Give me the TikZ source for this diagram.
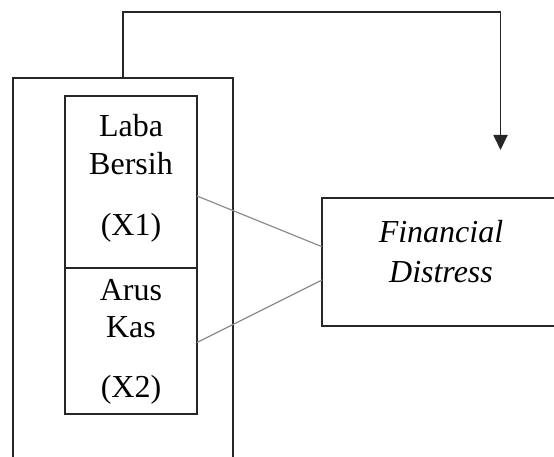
\documentclass[tikz,border=0pt]{standalone}
\usepackage{fontspec}
\setmainfont{Liberation Serif}
\usetikzlibrary{arrows.meta,calc}
\begin{document}
\begin{tikzpicture}[x=1pt,y=-1pt,
  line/.style={line width=1.8pt,black!85},
  box/.style={draw=black!85,line width=1.8pt,rectangle,inner sep=0pt,outer sep=0pt},
  link/.style={gray!90,line width=1.2pt},
  txt/.style={anchor=base,inner sep=0pt,font=\fontsize{32}{38}\selectfont}]
\path[use as bounding box] (0,0) rectangle (554,457);
\clip (0,0) rectangle (554,457);
% outer frame (open at bottom)
\coordinate (obl) at (13,470);
\coordinate (otl) at (13,78);
\coordinate (otr) at (233,78);
\coordinate (obr) at (233,470);
\coordinate (src) at (123,78);
\draw[line] (obl) -- (otl) -- (otr) -- (obr);
% inner boxes
\node[box,minimum width=132pt,minimum height=172pt] (x1) at (131,182) {};
\node[box,minimum width=132pt,minimum height=146pt] (x2) at (131,341) {};
% dependent box
\node[box,minimum width=238pt,minimum height=128pt] (fd) at (441,262) {};
% texts
\node[txt] (t1) at (131,137) {Laba};
\node[txt] (t2) at (131,175) {Bersih};
\node[txt] (t3) at (131,236) {(X1)};
\node[txt] (t4) at (131,300) {Arus};
\node[txt] (t5) at (131,337) {Kas};
\node[txt] (t6) at (131,397) {(X2)};
\node[txt] (t7) at (441,243) {\itshape Financial};
\node[txt] (t8) at (441,282) {\itshape Distress};
% links
\draw[link] ([yshift=-100pt]x1.north east) -- ([yshift=15.3pt]fd.west);
\draw[link] ([yshift=-74.5pt]x2.north east) -- ([yshift=-18pt]fd.west);
% feedback arrow
\coordinate (tip) at (500.5,150);
\draw[line,-{Triangle[length=15pt,width=14pt]}] (src) -- (src |- 0,12) -- (tip |- 0,12) -- (tip);
\end{tikzpicture}
\end{document}
